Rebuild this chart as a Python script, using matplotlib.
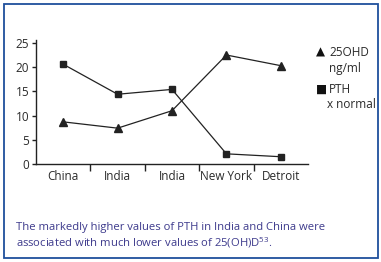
import matplotlib
matplotlib.use("Agg")
import matplotlib.pyplot as plt
from matplotlib.patches import Rectangle

# values
places = ["China", "India", "India", "New York", "Detroit"]
vit_d = [8.7, 7.4, 11.0, 22.5, 20.3]    # 25OHD ng/ml
pth = [20.6, 14.4, 15.4, 2.1, 1.5]      # PTH x normal
y_ticks = [0, 5, 10, 15, 20, 25]

text_col = "#2a2a2a"
cap_col = "#3d3a8c"
frame_col = "#1f4f9c"

plt.rcParams["font.family"] = ["Open Sans", "DejaVu Sans"]

fig = plt.figure(figsize=(3.81, 2.62), dpi=100)
fig.patches.append(Rectangle((3.5 / 381, 4 / 262), 374.5 / 381, 254 / 262,
                             transform=fig.transFigure, fill=False,
                             edgecolor=frame_col, linewidth=1.3))

ax = fig.add_axes([36 / 381, 1 - 164 / 262, 272 / 381, 124 / 262])
x = list(range(len(places)))
ax.plot(x, vit_d, color="#222222", lw=0.9, marker="^", ms=5.5)
ax.plot(x, pth, color="#222222", lw=0.9, marker="s", ms=5)

ax.set_xlim(-0.5, len(places) - 0.5)
ax.set_ylim(0, 25.6)
ax.set_yticks(y_ticks)
ax.set_xticks(x)
ax.set_xticklabels(places)
ax.set_xticks([i + 0.5 for i in x[:-1]], minor=True)
ax.tick_params(axis="x", which="major", length=0, pad=4, labelsize=8.5, labelcolor=text_col)
ax.tick_params(axis="x", which="minor", length=5, width=1, direction="out", color="#222222")
ax.tick_params(axis="y", length=3, width=1, pad=2, labelsize=8.5, labelcolor=text_col, color="#222222")
for s in ["top", "right"]:
    ax.spines[s].set_visible(False)
for s in ["left", "bottom"]:
    ax.spines[s].set_linewidth(1)
    ax.spines[s].set_color("#222222")

# legend, drawn by hand like the original
fig.text(316 / 381, 1 - 52 / 262, "\u25B2", fontsize=8.5, color="#111111", va="center", family="DejaVu Sans")
fig.text(329 / 381, 1 - 52 / 262, "25OHD", fontsize=8.5, color=text_col, va="center")
fig.text(329 / 381, 1 - 69 / 262, "ng/ml", fontsize=8.5, color=text_col, va="center")
fig.text(316 / 381, 1 - 89 / 262, "\u25A0", fontsize=8.5, color="#111111", va="center", family="DejaVu Sans")
fig.text(329 / 381, 1 - 89 / 262, "PTH", fontsize=8.5, color=text_col, va="center")
fig.text(327 / 381, 1 - 104 / 262, "x normal", fontsize=8.5, color=text_col, va="center")

fig.text(16 / 381, 1 - 236 / 262,
         "The markedly higher values of PTH in India and China were\n"
         "associated with much lower values of 25(OH)D$^{\\mathregular{53}}$.",
         fontsize=8.1, color=cap_col, va="center", linespacing=1.25)

fig.savefig("out.png", dpi=100)
